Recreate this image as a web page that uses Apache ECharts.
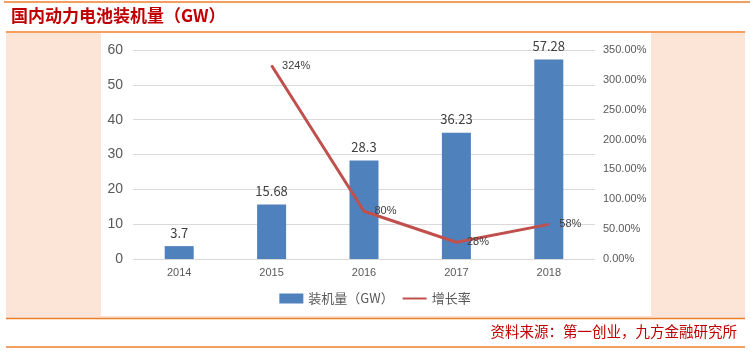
<!DOCTYPE html>
<html>
<head>
<meta charset="utf-8">
<script src="https://cdn.jsdelivr.net/npm/echarts@6/dist/echarts.min.js"></script>
<style>
  html, body { margin: 0; padding: 0; background: #fff; }
  #chart { width: 750px; height: 351px; }
</style>
</head>
<body>
<div id="chart"></div>
<script>
// data
const years = ['2014', '2015', '2016', '2017', '2018'];
const installed = [3.7, 15.68, 28.3, 36.23, 57.28];
const growth = [null, 324, 80, 28, 58];

const titleText = '国内动力电池装机量（GW）';
const sourceText = '资料来源：第一创业，九方金融研究所';

const chart = echarts.init(document.getElementById('chart'));

const orange = '#f07f2a';
const red = '#c00000';
const labelColor = '#595959';

const option = {
    animation: false,
    graphic: [
        // peach panel + white chart box
        { type: 'rect', shape: { x: 6, y: 33, width: 739, height: 285 }, style: { fill: '#fce4d6' }, z: -10 },
        { type: 'rect', shape: { x: 101, y: 33, width: 550, height: 283 }, style: { fill: '#ffffff' }, z: -9 },
        // orange rules
        { type: 'line', shape: { x1: 4, y1: 2, x2: 750, y2: 2 }, style: { stroke: orange, lineWidth: 1.5 } },
        { type: 'line', shape: { x1: 6, y1: 32, x2: 745, y2: 32 }, style: { stroke: orange, lineWidth: 1.5 } },
        { type: 'line', shape: { x1: 6, y1: 318.5, x2: 745, y2: 318.5 }, style: { stroke: orange, lineWidth: 1.5 } },
        { type: 'line', shape: { x1: 6, y1: 347, x2: 745, y2: 347 }, style: { stroke: orange, lineWidth: 1.5 } },
        {
            type: 'text', left: 11, top: 7,
            style: { text: titleText, fill: red, font: 'bold 17px "Noto Sans CJK SC"' }
        },
        {
            type: 'text', right: 13, top: 324,
            style: { text: sourceText, fill: red, font: '14.5px "Noto Sans CJK SC"' }
        }
    ],
    grid: { left: 133, right: 155, top: 50, bottom: 92 },
    legend: {
        bottom: 41,
        left: 'center',
        itemWidth: 24,
        itemHeight: 10,
        itemGap: 8,
        textStyle: { color: labelColor, fontSize: 13, fontFamily: 'Noto Sans CJK SC' },
        data: [
            { name: '装机量（GW）', icon: 'rect' },
            { name: '增长率', itemStyle: { opacity: 0 } }
        ]
    },
    xAxis: {
        type: 'category',
        data: years,
        axisLine: { show: false },
        axisTick: { show: false },
        axisLabel: { color: labelColor, fontSize: 11, margin: 8, fontFamily: 'Liberation Sans' }
    },
    yAxis: [
        {
            type: 'value', min: 0, max: 60, interval: 10,
            axisLine: { show: false },
            axisTick: { show: false },
            splitLine: { lineStyle: { color: '#d9d9d9' } },
            axisLabel: { color: labelColor, fontSize: 14, margin: 10, fontFamily: 'Liberation Sans' }
        },
        {
            type: 'value', min: 0, max: 350, interval: 50,
            axisLine: { show: false },
            axisTick: { show: false },
            splitLine: { show: false },
            axisLabel: {
                color: labelColor, fontSize: 11, margin: 8, fontFamily: 'Liberation Sans',
                formatter: v => v.toFixed(2) + '%'
            }
        }
    ],
    series: [
        {
            name: '装机量（GW）',
            type: 'bar',
            data: installed,
            barWidth: 29,
            itemStyle: { color: '#4f81bd' },
            label: {
                show: true, position: 'top', distance: 7,
                color: '#404040', fontSize: 13, fontFamily: 'Noto Sans CJK SC'
            }
        },
        {
            name: '增长率',
            type: 'line',
            yAxisIndex: 1,
            data: growth,
            symbol: 'circle',
            symbolSize: 1,
            showSymbol: true,
            lineStyle: { color: '#c0504d', width: 3 },
            itemStyle: { color: '#c0504d' },
            label: {
                show: true, position: 'right', distance: 10,
                color: '#404040', fontSize: 11, fontFamily: 'Liberation Sans',
                formatter: p => p.value + '%'
            }
        }
    ]
};

chart.setOption(option);
</script>
</body>
</html>
